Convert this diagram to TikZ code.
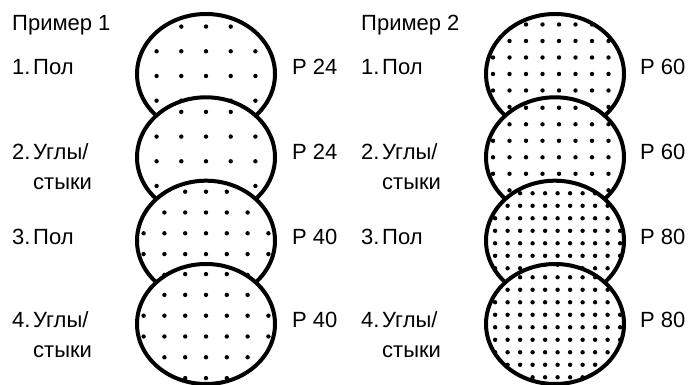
\documentclass[tikz,border=0pt]{standalone}
\usepackage{fontspec}
\setmainfont{Liberation Sans}
\usepackage{tikz}
\usetikzlibrary{positioning}
\tikzset{lbl/.style={anchor=base west, inner sep=0pt, font=\fontsize{22}{30}\selectfont}}
% dotted disc: centre x, centre y, dot step, grid shift x, grid shift y
\newcommand{\dotdisc}[5]{%
  \begin{scope}
    \fill[white]            (#1,#2) ellipse (69 and 60);
    \clip                   (#1,#2) ellipse (69 and 60);
    \foreach \i in {-6,...,6}
      \foreach \j in {-6,...,6}
        \fill (#1+#4+\i*#3, #2+#5+\j*#3) circle (2.2);
  \end{scope}
  \draw[line width=4pt]     (#1,#2) ellipse (69 and 60);
}

\begin{document}
\begin{tikzpicture}[x=1pt,y=1pt]
        \useasboundingbox (0,0) rectangle (690,385);
        % left example
        \dotdisc{206}{311.0}{24.7}{0}{-2}
        \dotdisc{206}{227.7}{24.7}{0}{-4}
        \dotdisc{206}{144.3}{20.8}{0}{7.4}
        \dotdisc{206}{61.0}{20.8}{0}{8.3}
        % right example
        \dotdisc{555}{311.0}{16.5}{4}{0}
        \dotdisc{555}{227.7}{16.5}{4}{0}
        \dotdisc{555}{144.3}{12.5}{2.6}{-2.6}
        \dotdisc{555}{61.0}{12.5}{2.6}{-3.3}
        % texts
        \node[lbl] (titleA) at (12,354)  {Пример 1};
        \node[lbl] (numA1)  at (12,310)  {1.};
        \node[lbl] (txtA1)  at (33,310)  {Пол};
        \node[lbl] (numA2)  at (12,225)  {2.};
        \node[lbl] (txtA2)  at (33,225)  {\begin{tabular}[t]{@{}l@{}}Углы/\\стыки\end{tabular}};
        \node[lbl] (numA3)  at (12,140)  {3.};
        \node[lbl] (txtA3)  at (33,140)  {Пол};
        \node[lbl] (numA4)  at (12,57)   {4.};
        \node[lbl] (txtA4)  at (33,57)   {\begin{tabular}[t]{@{}l@{}}Углы/\\стыки\end{tabular}};
        \node[lbl] (gritA1) at (292,310) {P 24};
        \node[lbl] (gritA2) at (292,225) {P 24};
        \node[lbl] (gritA3) at (292,140) {P 40};
        \node[lbl] (gritA4) at (292,57)  {P 40};
        \node[lbl] (titleB) at (361,354) {Пример 2};
        \node[lbl] (numB1)  at (361,310) {1.};
        \node[lbl] (txtB1)  at (382,310) {Пол};
        \node[lbl] (numB2)  at (361,225) {2.};
        \node[lbl] (txtB2)  at (382,225) {\begin{tabular}[t]{@{}l@{}}Углы/\\стыки\end{tabular}};
        \node[lbl] (numB3)  at (361,140) {3.};
        \node[lbl] (txtB3)  at (382,140) {Пол};
        \node[lbl] (numB4)  at (361,57)  {4.};
        \node[lbl] (txtB4)  at (382,57)  {\begin{tabular}[t]{@{}l@{}}Углы/\\стыки\end{tabular}};
        \node[lbl] (gritB1) at (640,310) {P 60};
        \node[lbl] (gritB2) at (640,225) {P 60};
        \node[lbl] (gritB3) at (640,140) {P 80};
        \node[lbl] (gritB4) at (640,57)  {P 80};
\end{tikzpicture}
\end{document}
